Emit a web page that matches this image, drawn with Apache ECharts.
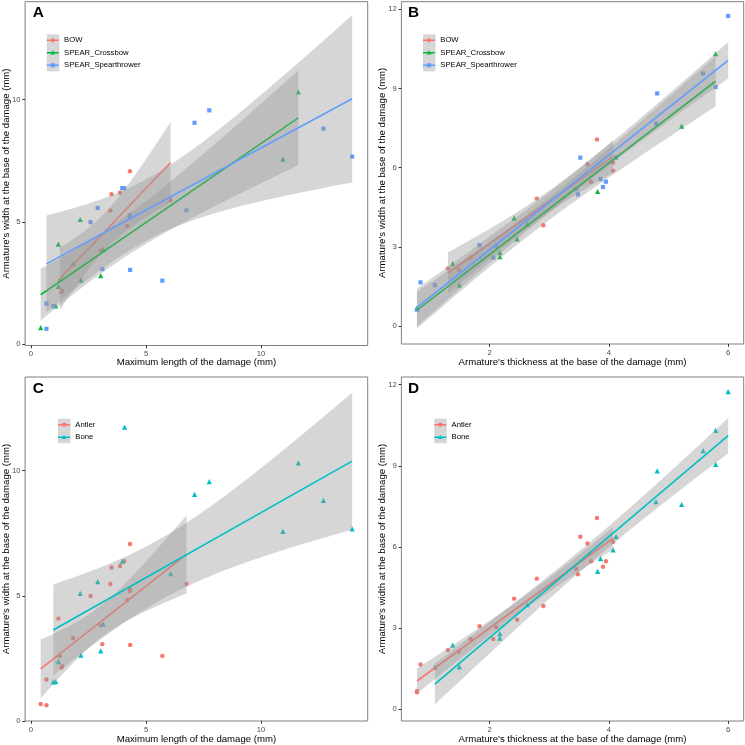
<!DOCTYPE html>
<html><head><meta charset="utf-8">
<script src="https://cdn.jsdelivr.net/npm/echarts@6/dist/echarts.min.js"></script>
<style>html,body{margin:0;padding:0;background:#fff}#c{width:745px;height:745px}</style>
</head><body><div id="c"></div>
<script>
// ---- Data: one entry per specimen ----
const lengthMm = [0.42,0.67,0.67,0.97,1.07,1.19,1.19,1.25,1.32,1.36,1.83,2.14,2.17,2.59,2.90,3.03,3.03,3.10,3.14,3.45,3.50,3.87,3.97,4.05,4.07,4.19,4.29,4.30,4.30,4.31,5.71,6.07,6.76,7.11,7.75,10.95,11.62,12.71,13.96];
const thicknessMm = [0.78,0.78,0.84,1.08,1.49,1.38,2.41,1.68,1.48,1.30,2.46,3.81,2.17,3.48,3.86,2.90,2.17,1.83,2.63,3.70,3.64,4.07,4.12,3.52,6.00,2.79,3.90,3.45,3.80,2.11,2.06,4.07,3.95,5.79,5.58,5.22,5.79,4.81,4.79];
const widthMm = [0.68,0.63,1.66,1.56,1.57,2.37,4.09,2.60,2.13,2.19,3.31,5.10,2.63,4.99,5.57,3.82,2.80,3.07,3.87,5.47,6.13,6.19,6.38,6.38,11.74,4.83,5.27,5.19,7.07,3.04,2.60,5.89,5.47,9.05,9.56,7.57,10.31,8.81,7.67];
const weaponCode = ['C','S','S','S','C','C','C','W','W','W','C','C','C','S','S','W','C','S','C','W','W','W','S','S','S','W','S','S','W','S','S','W','S','S','S','C','C','S','S'];
const materialCode = ['A','A','A','B','B','B','A','A','A','A','A','B','B','A','B','A','B','A','B','A','A','A','B','A','B','A','A','A','A','A','A','B','A','B','B','B','B','B','B'];
const weaponGroups = ['BOW','SPEAR_Crossbow','SPEAR_Spearthrower'];
const weaponKeys = ['W','C','S'];
const materialGroups = ['Antler','Bone'];
const materialKeys = ['A','B'];
const lengthTicks = [0,5,10];
const thicknessTicks = [2,4,6];
const widthTicksLength = [0,5,10];
const widthTicksThickness = [0,3,6,9,12];
const panelLetters = ['A','B','C','D'];
const xTitleLength = 'Maximum length of the damage (mm)';
const xTitleThickness = "Armature's thickness at the base of the damage (mm)";
const yTitle = "Armature's width at the base of the damage (mm)";

// ---- Styling ----
const F = '"Liberation Sans", Arial, Helvetica, sans-serif';
const colors = {BOW:'#F8766D', SPEAR_Crossbow:'#00BA38', SPEAR_Spearthrower:'#619CFF', Antler:'#F8766D', Bone:'#00BFC4'};
const symbols = {BOW:'circle', SPEAR_Crossbow:'triangle', SPEAR_Spearthrower:'rect', Antler:'circle', Bone:'triangle'};
const symSize = {circle:4.4, triangle:5.2, rect:4.2};
const corner = 'M0,0 L0,0 M12,12 L12,12 ';
const keyLine = 'M0,5.2 L12,5.2 L12,6.8 L0,6.8 Z ';
const keyShape = {
  circle:'M6,3.9 A2.1,2.1 0 1,1 6,8.1 A2.1,2.1 0 1,1 6,3.9 Z',
  triangle:'M6,3.5 L8.4,7.7 L3.6,7.7 Z',
  rect:'M4,4 L8,4 L8,8 L4,8 Z'
};
// t quantiles (0.975) for the 95% confidence band of lm, by residual df
const T975 = {8:2.306004, 9:2.262157, 15:2.131450, 16:2.119905, 20:2.085963};

function fitLm(xs, ys){
  const n = xs.length;
  const mx = xs.reduce((s,v)=>s+v,0)/n, my = ys.reduce((s,v)=>s+v,0)/n;
  let sxx=0, sxy=0;
  for(let i=0;i<n;i++){ sxx += (xs[i]-mx)*(xs[i]-mx); sxy += (xs[i]-mx)*(ys[i]-my); }
  const b = sxy/sxx, a = my - b*mx;
  let sse=0; for(let i=0;i<n;i++){ const r = ys[i]-a-b*xs[i]; sse += r*r; }
  const s = Math.sqrt(sse/(n-2)), t = T975[n-2];
  const xmin = Math.min(...xs), xmax = Math.max(...xs);
  const pred = x => a + b*x;
  const half = x => t*s*Math.sqrt(1/n + (x-mx)*(x-mx)/sxx);
  const up=[], lo=[];
  for(let k=0;k<80;k++){ const x = xmin + (xmax-xmin)*k/79; up.push([x, pred(x)+half(x)]); lo.push([x, pred(x)-half(x)]); }
  return {line:[[xmin,pred(xmin)],[xmax,pred(xmax)]], poly: up.concat(lo.reverse())};
}

const panels = [
  {xs:lengthMm, codes:weaponCode, groups:weaponGroups, keys:weaponKeys, grid:{left:25.1,top:1.7,width:342.6,height:343.8}, xr:[-0.257,14.637], yr:[-0.05,14.0], xt:lengthTicks, yt:widthTicksLength, xname:xTitleLength, xgap:12, legend:{left:46.8, top:34.3, w:103}, letter:{x:32.7,y:12.8}},
  {xs:thicknessMm, codes:weaponCode, groups:weaponGroups, keys:weaponKeys, grid:{left:401.4,top:1.7,width:342.3,height:342.3}, xr:[0.519,6.261], yr:[-0.67,12.28], xt:thicknessTicks, yt:widthTicksThickness, xname:xTitleThickness, xgap:13.5, legend:{left:423, top:34.3, w:103}, letter:{x:408,y:12.8}},
  {xs:lengthMm, codes:materialCode, groups:materialGroups, keys:materialKeys, grid:{left:25.1,top:377,width:342.6,height:344}, xr:[-0.257,14.637], yr:[0,13.74], xt:lengthTicks, yt:widthTicksLength, xname:xTitleLength, xgap:13.5, legend:{left:58, top:418.7, w:52}, letter:{x:32.7,y:389.2}},
  {xs:thicknessMm, codes:materialCode, groups:materialGroups, keys:materialKeys, grid:{left:401.4,top:377,width:342.3,height:344}, xr:[0.519,6.261], yr:[-0.43,12.28], xt:thicknessTicks, yt:widthTicksThickness, xname:xTitleThickness, xgap:13.2, legend:{left:434.3, top:418.7, w:48}, letter:{x:408,y:389.2}}
];

const grids=[], xAxes=[], yAxes=[], series=[], legends=[], graphics=[];
panels.forEach((p, k) => {
  grids.push(Object.assign({show:true, borderColor:'#7f7f7f', borderWidth:1, backgroundColor:'transparent', containLabel:false, outerBoundsMode:'none'}, p.grid));
  const tick = {show:true, length:2.8, lineStyle:{color:'#333333', width:1}};
  xAxes.push({type:'value', gridIndex:k, min:p.xr[0], max:p.xr[1], name:p.xname, nameLocation:'middle', nameGap:p.xgap, nameMoveOverlap:false,
    nameTextStyle:{fontFamily:F, fontSize:9.6, color:'#000'},
    axisLine:{show:false, onZero:false}, splitLine:{show:false},
    axisTick:Object.assign({customValues:p.xt}, tick),
    axisLabel:{customValues:p.xt, fontFamily:F, fontSize:7.7, color:'#4d4d4d', margin:4.5}});
  yAxes.push({type:'value', gridIndex:k, min:p.yr[0], max:p.yr[1], name:yTitle, nameLocation:'middle', nameGap:14, nameMoveOverlap:false,
    nameTextStyle:{fontFamily:F, fontSize:9.6, color:'#000'},
    axisLine:{show:false, onZero:false}, splitLine:{show:false},
    axisTick:Object.assign({customValues:p.yt}, tick),
    axisLabel:{customValues:p.yt, fontFamily:F, fontSize:7.7, color:'#4d4d4d', margin:4.5}});
  // points
  p.groups.forEach((g, gi) => {
    const data = [];
    p.codes.forEach((c, i) => { if (c === p.keys[gi]) data.push([p.xs[i], widthMm[i]]); });
    series.push({type:'scatter', name:g, xAxisIndex:k, yAxisIndex:k, z:1, silent:true,
      symbol:symbols[g], symbolSize:symSize[symbols[g]], itemStyle:{color:colors[g], opacity:1}, data});
  });
  // smooth layers (ribbon, then line) per group
  p.groups.forEach((g, gi) => {
    const xs=[], ys=[];
    p.codes.forEach((c, i) => { if (c === p.keys[gi]) { xs.push(p.xs[i]); ys.push(widthMm[i]); } });
    const fit = fitLm(xs, ys);
    series.push({type:'custom', name:'band_'+k+'_'+gi, xAxisIndex:k, yAxisIndex:k, z:2+gi*0.1, silent:true,
      data:[fit.line[0]],
      renderItem:(params, api) => ({type:'polygon', shape:{points:fit.poly.map(pt => api.coord(pt))}, style:{fill:'rgba(153,153,153,0.4)'}})});
    series.push({type:'line', name:g, xAxisIndex:k, yAxisIndex:k, z:2.05+gi*0.1, silent:true,
      symbol:'none', showSymbol:false, lineStyle:{color:colors[g], width:1.6}, itemStyle:{color:colors[g]}, data:fit.line});
  });
  // legend
  const L = p.legend, rows = p.groups.length;
  legends.push({show:true, orient:'vertical', left:L.left, top:L.top, padding:0, itemWidth:12.5, itemHeight:12, itemGap:0.5,
    selectedMode:false, z:4, textStyle:{fontFamily:F, fontSize:7.7, color:'#000'}, itemStyle:{borderWidth:0},
    data:p.groups.map(g => ({name:g, icon:'path://'+corner+keyLine+keyShape[symbols[g]]}))});
  graphics.push({type:'rect', z:3, silent:true, shape:{x:L.left-5, y:L.top-5, width:L.w, height:rows*12.5+10}, style:{fill:'#ffffff'}});
  graphics.push({type:'rect', z:3.5, silent:true, shape:{x:L.left, y:L.top, width:12.5, height:rows*12.5-0.5}, style:{fill:'#d6d6d6'}});
  graphics.push({type:'text', z:5, silent:true, style:{text:panelLetters[k], x:p.letter.x, y:p.letter.y, fill:'#000', font:'bold 15.4px '+F, align:'left', verticalAlign:'middle'}});
});

const chart = echarts.init(document.getElementById('c'), null, {renderer:'canvas'});
chart.setOption({animation:false, backgroundColor:'#fff', grid:grids, xAxis:xAxes, yAxis:yAxes, legend:legends, series, graphic:{elements:graphics}});
</script></body></html>
